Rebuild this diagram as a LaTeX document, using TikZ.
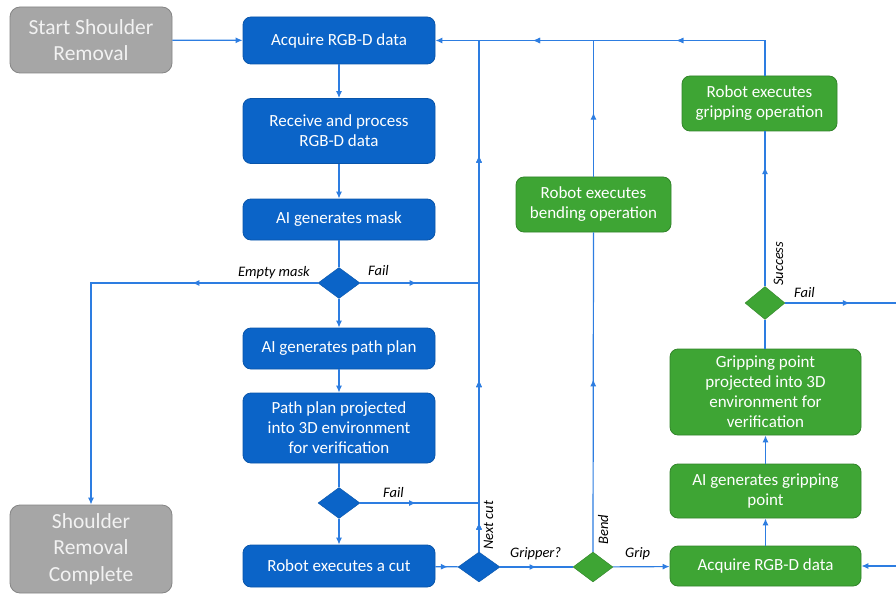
\documentclass[tikz,border=0pt]{standalone}
\usepackage{fontspec}
\setmainfont{Carlito}
\usepackage{tikz}
\usetikzlibrary{arrows.meta,shapes.geometric,decorations.markings}

\definecolor{boxblue}{RGB}{11,100,200}
\definecolor{lineblue}{RGB}{45,125,225}
\definecolor{boxgreen}{RGB}{62,165,52}
\definecolor{boxgray}{RGB}{166,166,166}

\tikzset{
	>={Latex[length=7pt,width=6pt]},   % small filled tips
	flow/.style={draw=lineblue, line width=1.2pt},
	midarrow/.style={postaction={decorate},
		decoration={markings, mark=at position #1 with {\arrow{>}}}},
	stepblue/.style={rectangle, rounded corners=8pt, fill=boxblue,
		draw=boxblue!85!black, line width=0.8pt, text=white, align=center,
		inner sep=0pt, minimum width=192pt,
		font=\fontsize{17}{20}\selectfont},
	stepgreen/.style={stepblue, fill=boxgreen, draw=boxgreen!80!black},
	terminal/.style={rectangle, rounded corners=10pt, fill=boxgray,
		draw=boxgray!80!black, line width=0.8pt, text=white!95!black,
		align=center, inner sep=0pt, minimum width=162pt,
		font=\fontsize{21.5}{26.5}\selectfont},
	choiceblue/.style={diamond, fill=boxblue, draw=boxblue!85!black,
		inner sep=0pt, minimum width=42pt, minimum height=31pt},
	choicegreen/.style={choiceblue, fill=boxgreen, draw=boxgreen!80!black},
	lbl/.style={font=\fontsize{14.5}{16}\selectfont\itshape, inner sep=0pt}
}

\begin{document}
\begin{tikzpicture}[x=1pt,y=-1pt]
	% page
	\fill[white] (0,0) rectangle (896,596);
	\useasboundingbox (0,0) rectangle (896,596);
	
	% start and end
	\node[terminal, minimum height=66pt] (start) at (91,40) {Start Shoulder\\Removal};
	\node[terminal, minimum height=88pt] (done) at (91,549) {Shoulder\\Removal\\Complete};
	
	% cutting column
	\node[stepblue, minimum height=47pt] (acq) at (339,40.5) {Acquire RGB-D data};
	\node[stepblue, minimum height=65pt] (recv) at (339,131) {Receive and process\\RGB-D data};
	\node[stepblue, minimum height=41pt] (mask) at (339,219.5) {AI generates mask};
	\node[choiceblue] (dmask) at (339,283) {};
	\node[stepblue, minimum height=41pt] (path) at (339,348.5) {AI generates path plan};
	\node[stepblue, minimum height=70pt] (proj) at (339,428) {Path plan projected\\into 3D environment\\for verification};
	\node[choiceblue] (dproj) at (339,503) {};
	\node[stepblue, minimum height=42pt] (cut) at (339,566) {Robot executes a cut};
	\node[choiceblue, minimum height=30pt] (dnext) at (479,567) {};
	
	% bending and gripping
	\node[choicegreen, minimum width=40pt, minimum height=30pt] (dbend) at (593,567) {};
	\node[stepgreen, minimum width=155pt, minimum height=55pt] (bend) at (593.5,204.5) {Robot executes\\bending operation};
	\node[stepgreen, minimum width=191pt, minimum height=40pt] (gacq) at (765.5,566) {Acquire RGB-D data};
	\node[stepgreen, minimum width=191pt, minimum height=54pt] (ggen) at (765.5,491) {AI generates gripping\\point};
	\node[stepgreen, minimum width=191pt, minimum height=86pt] (gproj) at (765.5,392) {Gripping point\\projected into 3D\\environment for\\verification};
	\node[choicegreen, minimum width=40pt, minimum height=33pt] (dgrip) at (765,303) {};
	\node[stepgreen, minimum width=155pt, minimum height=55pt] (gop) at (759.5,103.5) {Robot executes\\gripping operation};
	
	% loose ends off the right edge
	\coordinate (offtop) at (905,303);
	\coordinate (offlow) at (905,566);
	
	% main column connectors
	\draw[flow,->] (start) -- (acq);
	\draw[flow,->] (acq) -- (recv);
	\draw[flow,->] (recv) -- (mask);
	\draw[flow] (mask) -- (dmask);
	\draw[flow,->] (dmask) -- (path);
	\draw[flow,->] (path) -- (proj);
	\draw[flow] (proj) -- (dproj);
	\draw[flow,->] (dproj) -- (cut);
	\draw[flow,midarrow=0.55] (cut) -- (dnext);
	
	% branches of the blue choices
	\draw[flow,->,midarrow=0.28] (dmask.west) -| (done.north);
	\draw[flow,midarrow=0.475] (dmask.east) -- (dmask.east -| dnext.north);
	\draw[flow,midarrow=0.47] (dproj.east) -- (dproj.east -| dnext.north);
	\draw[flow,midarrow=0.057,midarrow=0.336,midarrow=0.775] (dnext.north) -- (dnext.north |- acq.east);
	\draw[flow,midarrow=0.5] (dnext) -- (dbend);
	
	% bend branch
	\draw[flow,midarrow=0.54] (dbend.north) -- (bend.south);
	\draw[flow,midarrow=0.47] (bend.north) -- (bend.north |- acq.east);
	
	% grip branch
	\draw[flow,->] (dbend) -- (gacq);
	\draw[flow,->] (gacq) -- (ggen);
	\draw[flow,->] (ggen) -- (gproj);
	\draw[flow] (gproj.north -| dgrip.south) -- (dgrip.south);
	\draw[flow,midarrow=0.77] (dgrip.north) -- (dgrip.north |- gop.south);
	\draw[flow,->,midarrow=0.339,midarrow=0.732] (dgrip.north |- gop.north) |- (acq.east);
	\draw[flow,midarrow=0.54] (dgrip.east) -- (offtop);
	\draw[flow,->] (offtop) |- (gacq.east);
	
	% labels
	\node[lbl, anchor=base east] (lempty) at (310,276) {Empty mask};
	\node[lbl, anchor=base west] (lfailm) at (368,275) {Fail};
	\node[lbl, anchor=base west] (lfailp) at (383,497) {Fail};
	\node[lbl, anchor=base west] (lgripq) at (510,557) {Gripper?};
	\node[lbl, anchor=base west] (lgrip) at (625,557) {Grip};
	\node[lbl, anchor=base west] (lfailg) at (794,297) {Fail};
	\node[lbl, anchor=base west, rotate=90] (lnext) at (493,550) {Next cut};
	\node[lbl, anchor=base west, rotate=90] (lbend) at (608,545) {Bend};
	\node[lbl, anchor=base west, rotate=90] (lsucc) at (783,286) {Success};
\end{tikzpicture}
\end{document}
